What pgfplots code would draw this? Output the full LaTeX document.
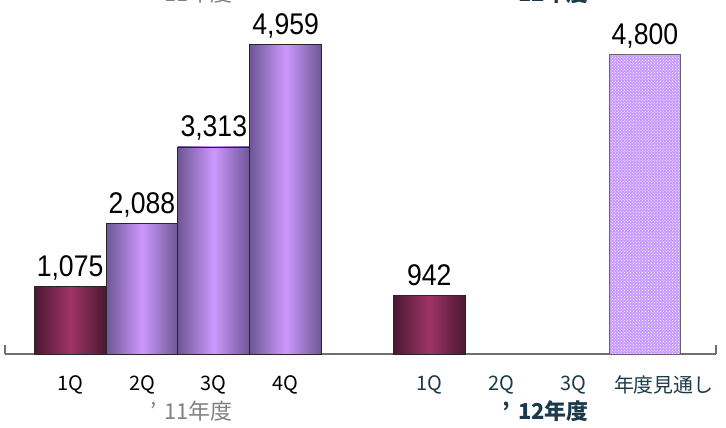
\documentclass[border=0pt]{standalone}
\usepackage{fontspec}
\setmainfont{Liberation Sans}
\newfontfamily\numfont[FakeStretch=0.89]{Liberation Sans}
\newfontfamily\jp{Noto Sans CJK JP}
\usepackage{pgfplots}
\pgfplotsset{compat=1.18}
\usetikzlibrary{patterns}
\definecolor{maroonD}{HTML}{4A1832}
\definecolor{maroonM}{HTML}{9E3465}
\definecolor{purpD}{HTML}{6E5694}
\definecolor{purpM}{HTML}{CC99FF}
\definecolor{fc}{HTML}{C899FF}
\definecolor{navy}{HTML}{1B3A4B}
\definecolor{grayT}{HTML}{808080}
\definecolor{axisG}{HTML}{707070}
\begin{document}
\begin{tikzpicture}
\begin{axis}[
  scale only axis, width=711bp, height=350bp,
  xmin=-0.906, xmax=8.99, ymin=0, ymax=5600,
  axis y line=none, axis x line=bottom,
  axis line style={-, draw=axisG, line width=1.1bp},
  xtick={0,1,2,3,5,6,7,8},
  xticklabels={1Q,2Q,3Q,4Q,\textcolor{navy}{1Q},\textcolor{navy}{2Q},\textcolor{navy}{3Q},\textcolor{navy}{\hspace*{38bp}年度見通し}},
  xticklabel style={font=\jp\fontsize{20}{22}\selectfont, anchor=center, yshift=-31bp},
  major tick length=0pt,
  ybar, bar width=1,
  /pgf/number format/1000 sep={,},
  /pgf/number format/assume math mode=true,
  nodes near coords,
  nodes near coords style={font=\numfont\fontsize{30}{34}\selectfont, anchor=base, yshift=10bp, text=black},
  clip=false,
  maroonbar/.style={bar shift=0pt, draw=black!85, line width=0.8bp, left color=maroonD, right color=maroonD, middle color=maroonM},
  purpbar/.style={bar shift=0pt, draw=black!85, line width=0.8bp, left color=purpD, right color=purpD, middle color=purpM},
]
\addplot[maroonbar] coordinates {(0,1075)};
\addplot[purpbar] coordinates {(1,2088)};
\addplot[purpbar] coordinates {(2,3313)};
\addplot[purpbar] coordinates {(3,4959)};
\addplot[maroonbar] coordinates {(5,942)};
\addplot[bar shift=0pt, draw=black!60, line width=0.8bp, fill=fc, postaction={pattern=crosshatch dots, pattern color=white}] coordinates {(8,4800)};
\node[font=\jp\fontsize{22}{24}\selectfont, text=grayT, yshift=-57bp] at (axis cs:1.69,0) {’\hspace{0.35em}11年度};
\node[font=\jp\bfseries\fontsize{22}{24}\selectfont, text=navy, yshift=-57bp] at (axis cs:6.62,0) {’\hspace{0.35em}12年度};
\node[font=\jp\fontsize{22}{24}\selectfont, text=grayT, anchor=base, yshift=352bp] at (axis cs:1.69,0) {’\hspace{0.35em}11年度};
\node[font=\jp\bfseries\fontsize{22}{24}\selectfont, text=navy, anchor=base, yshift=352bp] at (axis cs:6.62,0) {’\hspace{0.35em}12年度};
\draw[axisG, line width=1.1bp] (rel axis cs:0,0) -- ([yshift=9bp]rel axis cs:0,0);
\draw[axisG, line width=1.1bp] (rel axis cs:1,0) -- ([yshift=9bp]rel axis cs:1,0);
\end{axis}
\pgfresetboundingbox
\path[use as bounding box] (-5bp,-74bp) rectangle (721bp,354bp);
\end{tikzpicture}
\end{document}
